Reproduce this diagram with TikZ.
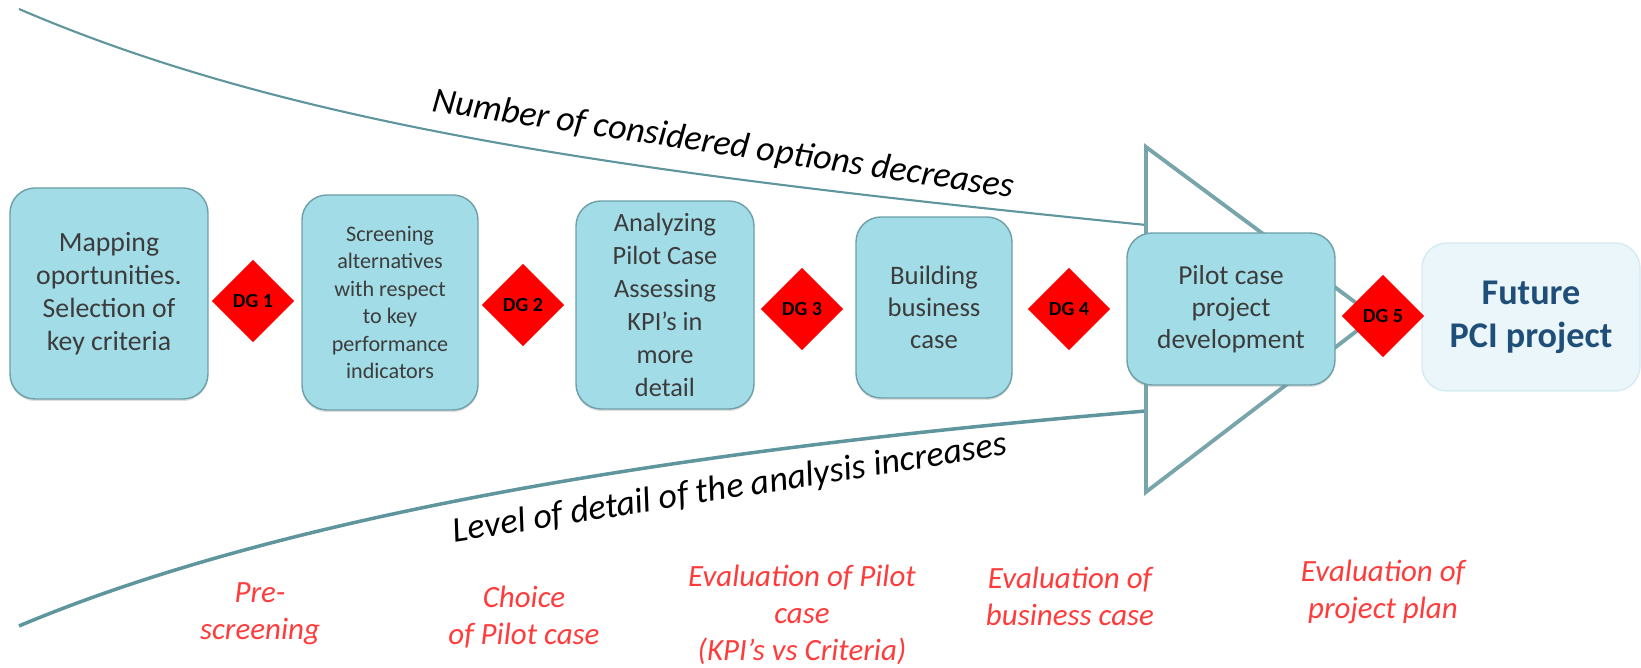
\documentclass[tikz,border=0pt]{standalone}
\usepackage{fontspec}
\setmainfont{Carlito}
\usetikzlibrary{shapes.geometric,shadows}

\definecolor{stagefill}{HTML}{A2DCE7}
\definecolor{stageline}{HTML}{6E9FA8}
\definecolor{stagetext}{HTML}{3C3C3C}
\definecolor{funnel}{HTML}{5F959C}
\definecolor{outred}{HTML}{FF3C3C}
\definecolor{pciblue}{HTML}{1F4E79}
\definecolor{pcifill}{HTML}{EAF6FA}
\definecolor{pciline}{HTML}{D5EBF2}

\tikzset{
  stage/.style={rectangle, rounded corners=0.25cm, draw=stageline, line width=0.4pt,
    fill=stagefill, text=stagetext, align=center, inner sep=0pt,
    drop shadow={opacity=0.25, shadow xshift=0pt, shadow yshift=-0.6pt}},
  goal/.style={rectangle, rounded corners=0.25cm, draw=pciline, line width=0.4pt,
    fill=pcifill, text=pciblue, align=center, inner sep=0pt},
  gate/.style={diamond, fill=red, minimum width=0.83cm, minimum height=0.83cm,
    inner sep=0pt, font=\fontsize{5.7}{6.5}\selectfont\bfseries},
  outcome/.style={text=outred, align=center, font=\fontsize{8.8}{10.5}\selectfont\itshape},
  trendtext/.style={font=\fontsize{10.2}{12}\selectfont\itshape}
}

\begin{document}
\begin{tikzpicture}[x=1cm, y=-1cm]
        \useasboundingbox (0,0) rectangle (16.41,6.68);
        % funnel
        \coordinate (ftop) at (11.46,1.47);
        \coordinate (fbot) at (11.46,4.92);
        \coordinate (fapex) at (13.75,3.17);
        \coordinate (wide) at (0.19,0.09);
        \coordinate (deep) at (0.19,6.26);
        \draw[funnel, line width=0.6pt] (wide) .. controls (3.0,1.3) and (6.5,1.75) .. (11.46,2.25);
        \draw[funnel, line width=1pt] (deep) .. controls (3.3,4.95) and (8.0,4.4) .. (11.46,4.11);
        \draw[funnel!85, line width=1.1pt, line join=miter] (ftop) -- (fapex) -- (fbot) -- cycle;
        \node[trendtext, rotate=-8.5] (fewer) at (7.23,1.45) {Number of considered options decreases};
        \node[trendtext, rotate=9] (deeper) at (7.30,4.89) {Level of detail of the analysis increases};
        % stages
        \node[stage, minimum width=1.98cm, minimum height=2.11cm, font=\fontsize{7.9}{9.4}\selectfont]
            (map) at (1.09,2.935) {Mapping\\oportunities.\\Selection of\\key criteria};
        \node[stage, minimum width=1.76cm, minimum height=2.15cm, font=\fontsize{6.3}{7.8}\selectfont]
            (screen) at (3.90,3.025) {Screening\\alternatives\\with respect\\to key\\performance\\indicators};
        \node[stage, minimum width=1.78cm, minimum height=2.08cm, font=\fontsize{7.5}{9.4}\selectfont]
            (analyse) at (6.65,3.05) {Analyzing\\Pilot Case\\Assessing\\KPI's in\\more\\detail};
        \node[stage, minimum width=1.56cm, minimum height=1.81cm, font=\fontsize{7.6}{9.2}\selectfont]
            (business) at (9.34,3.075) {Building\\business\\case};
        \node[stage, minimum width=2.08cm, minimum height=1.52cm, font=\fontsize{7.8}{9.1}\selectfont]
            (pilot) at (12.31,3.09) {Pilot case\\project\\development};
        \node[goal, minimum width=2.18cm, minimum height=1.48cm, font=\fontsize{10.3}{12.3}\selectfont\bfseries]
            (future) at (15.31,3.17) {Future\\PCI project};
        % decision gates
        \node[gate] (dg1) at (2.53,3.01) {DG 1};
        \node[gate] (dg2) at (5.23,3.05) {DG 2};
        \node[gate] (dg3) at (8.02,3.09) {DG 3};
        \node[gate] (dg4) at (10.69,3.09) {DG 4};
        \node[gate] (dg5) at (13.83,3.16) {DG 5};
        % outcomes
        \node[outcome] (prescreen) at (2.60,6.14) {Pre-\\screening};
        \node[outcome] (choice) at (5.24,6.17) {Choice\\of Pilot case};
        \node[outcome] (evalpilot) at (8.02,6.15) {Evaluation of Pilot\\case\\(KPI's vs Criteria)};
        \node[outcome] (evalbusiness) at (10.70,5.96) {Evaluation of\\business case};
        \node[outcome] (evalplan) at (13.83,5.92) {Evaluation of\\project plan};
\end{tikzpicture}
\end{document}
